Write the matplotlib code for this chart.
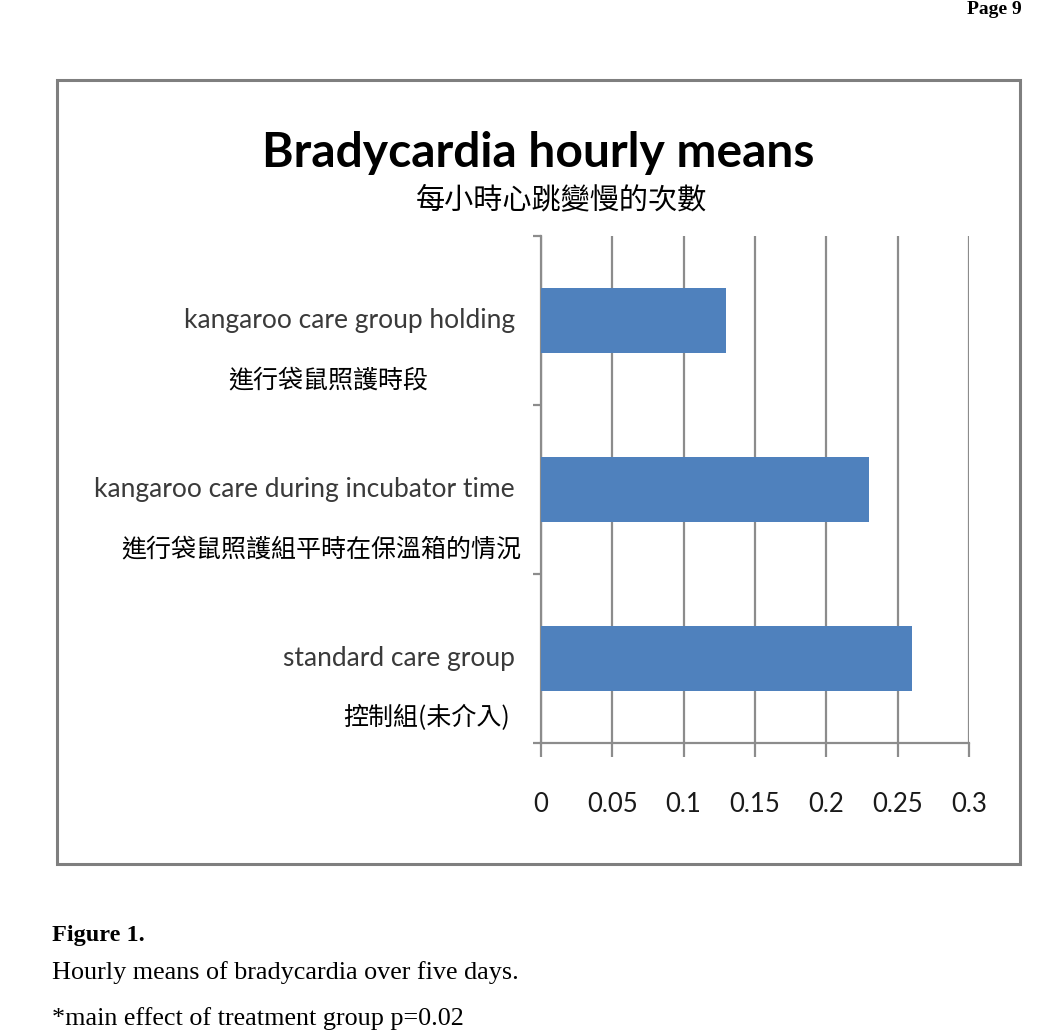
import matplotlib
matplotlib.use("Agg")
import matplotlib.pyplot as plt
from matplotlib.patches import Rectangle

# data (bottom to top)
groups = ["standard care group",
          "kangaroo care during incubator time",
          "kangaroo care group holding"]
groups_zh = ["控制組(未介入)",
             "進行袋鼠照護組平時在保溫箱的情況",
             "進行袋鼠照護時段"]
means = [0.26, 0.23, 0.13]
xticks = [0, 0.05, 0.1, 0.15, 0.2, 0.25, 0.3]
xtick_labels = ["0", "0.05", "0.1", "0.15", "0.2", "0.25", "0.3"]

W, H = 1052, 1034
fig = plt.figure(figsize=(W / 100, H / 100), dpi=100)
fig.patch.set_facecolor("white")

zh_font = ["Noto Sans CJK TC", "DejaVu Sans"]
en_font = "Lato"

# outer chart frame
fig.patches.append(Rectangle((57 / W, 1 - 864 / H), (1020 - 57) / W, (864 - 80) / H,
                             transform=fig.transFigure, fill=False,
                             edgecolor="#7f7f7f", linewidth=2.2))

ax = fig.add_axes([541 / W, 1 - 743 / H, (969 - 541) / W, (743 - 236) / H])
ypos = list(range(len(groups)))
ax.barh(ypos, means, height=0.39, color="#4F81BD", zorder=3)
ax.set_xlim(0, 0.3)
ax.set_ylim(-0.5, len(groups) - 0.5)

ax.set_xticks(xticks)
ax.set_xticklabels(xtick_labels, fontfamily=en_font, fontsize=18.5, color="#1a1a1a")
ax.grid(axis="x", color="#8c8c8c", linewidth=1.6, zorder=1)
ax.set_yticks([-0.5, 0.5, 1.5, 2.5])
ax.set_yticklabels([])
ax.tick_params(axis="x", length=10, width=1.6, color="#8c8c8c", pad=25)
ax.tick_params(axis="y", length=6, width=1.6, color="#8c8c8c")
for s in ["top", "right"]:
    ax.spines[s].set_visible(False)
for s in ["left", "bottom"]:
    ax.spines[s].set_color("#8c8c8c")
    ax.spines[s].set_linewidth(1.6)

# category labels
for y, en in zip(ypos, groups):
    ax.annotate(en, xy=(0, y), xycoords=("axes fraction", "data"),
                xytext=(-26, 0), textcoords="offset pixels",
                ha="right", va="center", fontfamily=en_font, fontsize=19,
                color="#3a3a3a")
zh_right = [510, 521, 428]
for y, zh, xr in zip(ypos, groups_zh, zh_right):
    ax.annotate(zh, xy=(xr / W, y), xycoords=("figure fraction", "data"),
                xytext=(0, -60), textcoords="offset pixels",
                ha="right", va="center", family=zh_font, fontsize=18,
                color="black")

# titles
fig.text(538 / W, 1 - 153 / H, "Bradycardia hourly means", ha="center", va="center",
         fontfamily=en_font, fontweight="bold", fontsize=34.6, color="black")
fig.text(561 / W, 1 - 200 / H, "每小時心跳變慢的次數", ha="center", va="center",
         family=zh_font, fontsize=21, color="black")

# page caption
serif = "Liberation Serif"
fig.text(994 / W, 1 - 1 / H, "Page 9", ha="center", va="top",
         fontfamily=serif, fontweight="bold", fontsize=14)
fig.text(52 / W, 1 - 935 / H, "Figure 1.", ha="left", va="center",
         fontfamily=serif, fontweight="bold", fontsize=17.5)
fig.text(52 / W, 1 - 973 / H, "Hourly means of bradycardia over five days.",
         ha="left", va="center", fontfamily=serif, fontsize=18.8)
fig.text(52 / W, 1 - 1019 / H, "*main effect of treatment group p=0.02",
         ha="left", va="center", fontfamily=serif, fontsize=18.8)

fig.savefig("out.png", dpi=100)
